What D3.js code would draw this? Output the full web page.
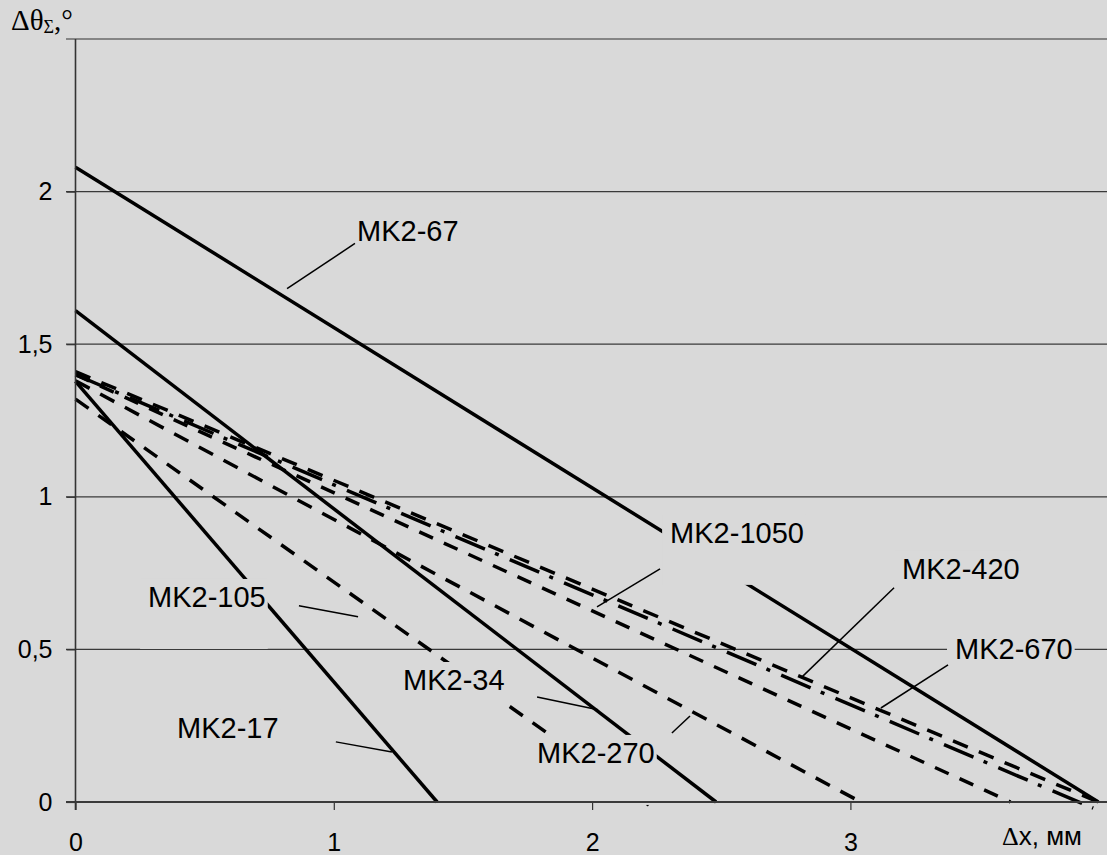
<!DOCTYPE html>
<html>
<head>
<meta charset="utf-8">
<script src="https://cdn.jsdelivr.net/npm/d3@7"></script>
<style>
  html, body { margin: 0; padding: 0; background: #d9d9d9; }
  svg { display: block; }
</style>
</head>
<body>
<script>
// chart values (x in mm, y in degrees)
var seriesNames = ["MK2-67", "MK2-34", "MK2-17", "MK2-105", "MK2-270", "MK2-1050", "MK2-420", "MK2-670"];
var seriesX = [[0, 3.96], [0, 2.48], [0, 1.40], [0, 2.22], [0, 3.04], [0, 3.62], [0, 3.94], [0, 3.96]];
var seriesY = [[2.08, 0], [1.61, 0], [1.378, 0], [1.32, -0.01], [1.38, 0], [1.40, 0], [1.40, -0.02], [1.41, 0]];
var seriesDash = ["none", "none", "none", "16,12", "16,12", "15,12", "32,11,4,12", "16,12"];

var xTicks = [0, 1, 2, 3];
var yTicks = [0, 0.5, 1, 1.5, 2];

// where each label sits and where its leader line points (data units)
var labelAt = [[1.09, 1.839], [1.268, 0.367], [0.393, 0.210], [0.281, 0.639], [1.787, 0.128], [2.302, 0.849], [3.200, 0.731], [3.405, 0.469]];
var leaderFrom = [[1.082, 1.830], [1.787, 0.344], [1.008, 0.197], [0.865, 0.643], [2.309, 0.226], [2.263, 0.764], [3.169, 0.702], [3.378, 0.449]];
var leaderTo = [[0.819, 1.682], [2.023, 0.302], [1.225, 0.164], [1.094, 0.607], [2.379, 0.282], [2.019, 0.639], [2.813, 0.410], [3.118, 0.308]];

var width = 1107, height = 855;
var bg = "#d9d9d9";

var svg = d3.select("body").append("svg")
  .attr("width", width)
  .attr("height", height)
  .style("background", bg);

var x = d3.scaleLinear().domain([0, 4]).range([75.5, 75.5 + 4 * 258.3]);
var y = d3.scaleLinear().domain([0, 2.5]).range([802, 39]);

// gridlines
svg.append("g").selectAll("line")
  .data(yTicks.filter(function (d) { return d > 0; }))
  .enter().append("line")
  .attr("x1", 66).attr("x2", width)
  .attr("y1", function (d) { return y(d); })
  .attr("y2", function (d) { return y(d); })
  .attr("stroke", "#3a3a3a")
  .attr("stroke-width", 1.3);

// top border
svg.append("line")
  .attr("x1", 66).attr("x2", width)
  .attr("y1", y(2.5)).attr("y2", y(2.5))
  .attr("stroke", "#858585")
  .attr("stroke-width", 2);

// series lines
var line = d3.line()
  .x(function (d) { return x(d[0]); })
  .y(function (d) { return y(d[1]); });

svg.append("g").selectAll("path")
  .data(seriesNames)
  .enter().append("path")
  .attr("d", function (d, i) {
    return line(seriesX[i].map(function (v, j) { return [v, seriesY[i][j]]; }));
  })
  .attr("fill", "none")
  .attr("stroke", "#000")
  .attr("stroke-width", 3.5)
  .attr("stroke-dasharray", function (d, i) { return seriesDash[i]; });

// labels with their boxes (same colour as the background, they only mask)
var lab = svg.append("g").selectAll("g")
  .data(seriesNames)
  .enter().append("g");

var boxes = lab.append("rect").attr("fill", bg);

var texts = lab.append("text")
  .attr("x", function (d, i) { return x(labelAt[i][0]); })
  .attr("y", function (d, i) { return y(labelAt[i][1]); })
  .attr("font-family", "Liberation Sans, Arial, sans-serif")
  .attr("font-size", "29px")
  .attr("fill", "#000")
  .text(function (d) { return d; });

texts.each(function (d, i) {
  var w = this.getComputedTextLength();
  d3.select(boxes.nodes()[i])
    .attr("x", x(labelAt[i][0]) - 8)
    .attr("y", y(labelAt[i][1]) - 28)
    .attr("width", w + 10)
    .attr("height", 70);
});

svg.append("g").selectAll("line")
  .data(seriesNames)
  .enter().append("line")
  .attr("x1", function (d, i) { return x(leaderFrom[i][0]); })
  .attr("y1", function (d, i) { return y(leaderFrom[i][1]); })
  .attr("x2", function (d, i) { return x(leaderTo[i][0]); })
  .attr("y2", function (d, i) { return y(leaderTo[i][1]); })
  .attr("stroke", "#000")
  .attr("stroke-width", 1.5);

// axes
var yAxis = svg.append("g")
  .attr("transform", "translate(" + x(0) + ",0)")
  .call(d3.axisLeft(y).tickValues(yTicks).tickSize(9).tickPadding(14)
    .tickFormat(function (d) { return String(d).replace(".", ","); }));
yAxis.select(".domain").remove();
yAxis.append("line")
  .attr("x1", 0).attr("x2", 0)
  .attr("y1", y(2.5)).attr("y2", 810)
  .attr("stroke", "#333").attr("stroke-width", 1.6);

var xAxis = svg.append("g")
  .attr("transform", "translate(0," + y(0) + ")")
  .call(d3.axisBottom(x).tickValues(xTicks).tickSize(8).tickPadding(23)
    .tickFormat(function (d) { return d; }));
xAxis.select(".domain").remove();
xAxis.append("line")
  .attr("x1", 66).attr("x2", width)
  .attr("y1", 0).attr("y2", 0)
  .attr("stroke", "#3a3a3a").attr("stroke-width", 2);

svg.selectAll(".tick line").attr("stroke", "#333").attr("stroke-width", 1.2);
svg.selectAll(".tick text")
  .attr("font-family", "Liberation Sans, Arial, sans-serif")
  .attr("font-size", "25px")
  .attr("fill", "#000");

// axis titles
var yt = svg.append("text")
  .attr("x", 11).attr("y", 30)
  .attr("font-family", "Liberation Serif, Times New Roman, serif")
  .attr("font-size", "29px");
yt.append("tspan").text("Δθ");
yt.append("tspan").attr("font-size", "18px").attr("dy", 3).text("Σ");
yt.append("tspan").attr("dy", -3).text(",°");

var xt = svg.append("text")
  .attr("x", 1002).attr("y", 845)
  .attr("font-family", "Liberation Sans, Arial, sans-serif")
  .attr("font-size", "26px");
xt.append("tspan").attr("font-family", "Liberation Serif, serif").text("Δ");
xt.append("tspan").text("x, мм");
</script>
</body>
</html>
